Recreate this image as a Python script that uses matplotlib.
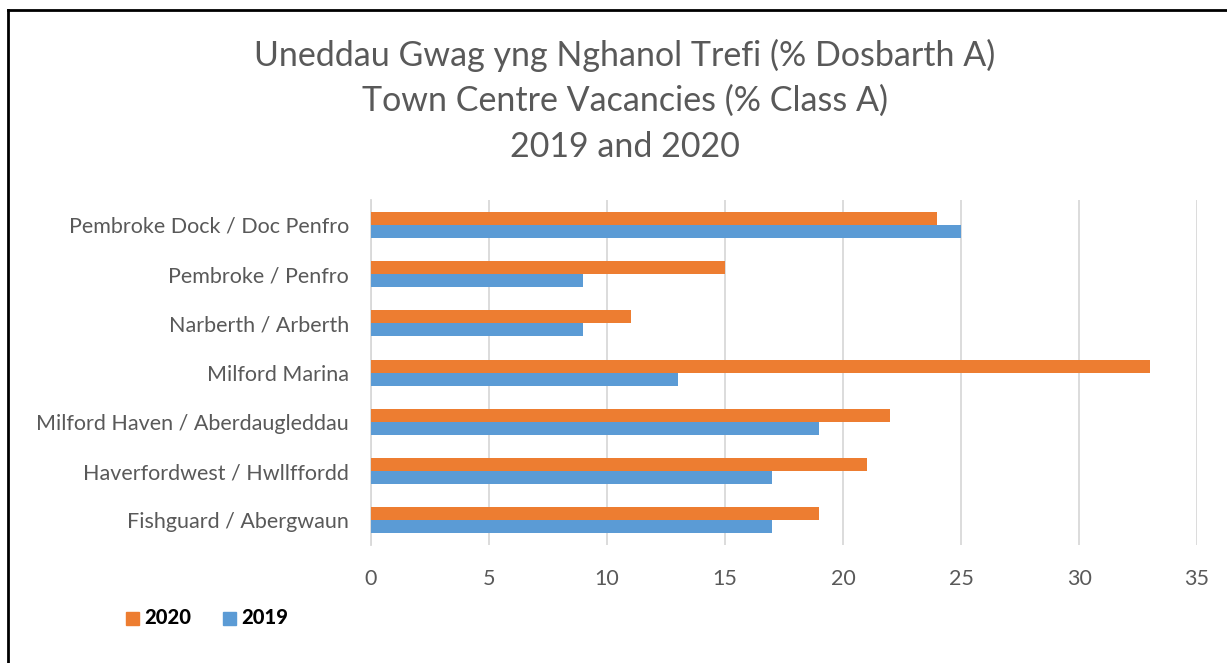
import numpy as np
import matplotlib.pyplot as plt
from matplotlib.lines import Line2D
from matplotlib.patches import Rectangle

towns = ['Fishguard / Abergwaun', 'Haverfordwest / Hwllffordd',
         'Milford Haven / Aberdaugleddau', 'Milford Marina',
         'Narberth / Arberth', 'Pembroke / Penfro', 'Pembroke Dock / Doc Penfro']
vac_2020 = [19, 21, 22, 33, 11, 15, 24]
vac_2019 = [17, 17, 19, 13, 9, 9, 25]
title_lines = ['Uneddau Gwag yng Nghanol Trefi (% Dosbarth A)',
               'Town Centre Vacancies (% Class A)',
               '2019 and 2020']

orange = '#ED7D31'
blue = '#5B9BD5'
grey = '#595959'
font = 'Lato'

fig = plt.figure(figsize=(12.27, 6.63), dpi=100)
ax = fig.add_axes([0.3024, 0.178, 0.9756 - 0.3024, 0.52])

y = np.arange(len(towns))
h = 0.265
ax.barh(y + h / 2, vac_2020, height=h, color=orange, zorder=3)
ax.barh(y - h / 2, vac_2019, height=h, color=blue, zorder=3)

ax.set_xlim(0, 35)
ax.set_ylim(-0.5, len(towns) - 0.5)
ax.set_xticks(range(0, 36, 5))
ax.set_yticks(y)
ax.set_yticklabels(towns)
ax.grid(axis='x', color='#D9D9D9', linewidth=1.3, zorder=0)
for s in ['top', 'right', 'bottom']:
    ax.spines[s].set_visible(False)
ax.spines['left'].set_color('#D9D9D9')
ax.spines['left'].set_linewidth(1.3)
ax.tick_params(length=0, labelsize=15.5, labelcolor=grey)
ax.tick_params(axis='y', pad=16)
ax.tick_params(axis='x', pad=17)
for lbl in ax.get_xticklabels() + ax.get_yticklabels():
    lbl.set_fontfamily(font)

for i, line in enumerate(title_lines):
    fig.text(0.509, 1 - (55 + 46 * i) / 663, line, ha='center', va='center',
             fontsize=24.5, color=grey, family=font)

# legend
for x0, col, lab in [(126, orange, '2020'), (223, blue, '2019')]:
    fig.patches.append(Rectangle((x0 / 1227, 1 - 625 / 663), 13 / 1227, 13 / 663,
                                 transform=fig.transFigure, color=col))
    fig.text((x0 + 18) / 1227, 1 - 618 / 663, lab, fontsize=14.5, fontweight='black',
             family=font, va='center', ha='left', color='black')

# border lines top and left
fig.add_artist(Line2D([8 / 1227, 1], [1 - 10 / 663, 1 - 10 / 663], color='black', lw=2, transform=fig.transFigure))
fig.add_artist(Line2D([8 / 1227, 8 / 1227], [0, 1 - 10 / 663], color='black', lw=2, transform=fig.transFigure))

fig.savefig('out.png', dpi=100)
